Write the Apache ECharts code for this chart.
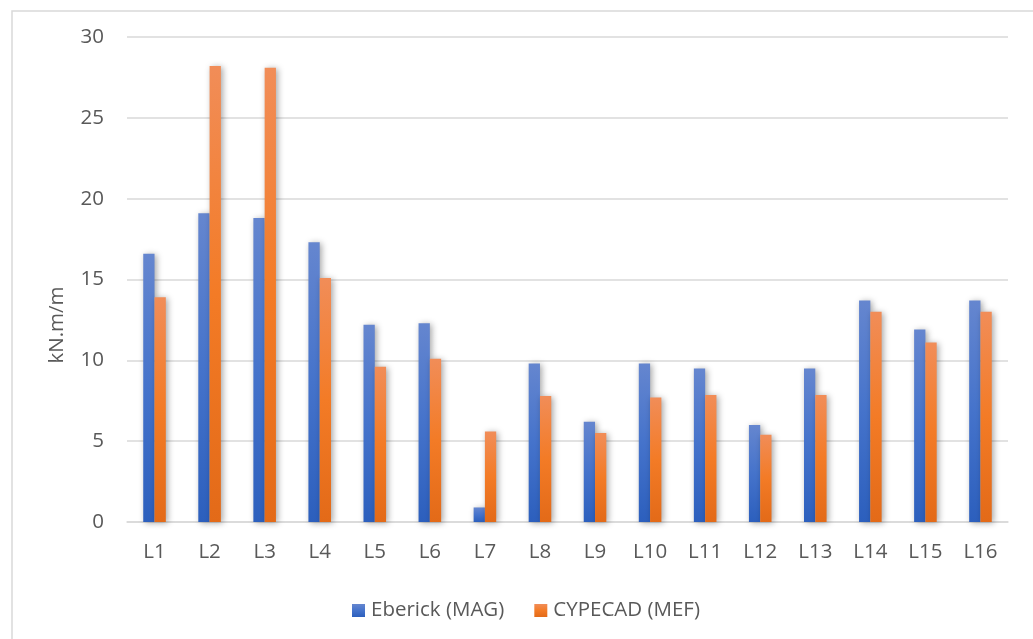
<!DOCTYPE html>
<html>
<head>
<meta charset="utf-8">
<style>
  html, body { margin: 0; padding: 0; background: #ffffff; }
  #chart { width: 1033px; height: 639px; }
</style>
<script src="https://cdn.jsdelivr.net/npm/echarts@6/dist/echarts.min.js"></script>
</head>
<body>
<div id="chart"></div>
<script>
// Bending moments per slab, two analysis methods
const categories = ['L1', 'L2', 'L3', 'L4', 'L5', 'L6', 'L7', 'L8', 'L9', 'L10', 'L11', 'L12', 'L13', 'L14', 'L15', 'L16'];
const eberick = [16.6, 19.1, 18.8, 17.3, 12.2, 12.3, 0.9, 9.8, 6.2, 9.8, 9.5, 6.0, 9.5, 13.7, 11.9, 13.7];
const cypecad = [13.9, 28.2, 28.1, 15.1, 9.6, 10.1, 5.6, 7.8, 5.5, 7.7, 7.85, 5.4, 7.85, 13.0, 11.1, 13.0];
const seriesNames = ['Eberick (MAG)', 'CYPECAD (MEF)'];
const yTicks = { min: 0, max: 30, interval: 5 };
const unitLabel = 'kN.m/m';

const FONT = '"Open Sans", Lato, sans-serif';
const FS = 20.5;
const TEXT = '#595959';

function vgrad(top, mid, bottom) {
  return new echarts.graphic.LinearGradient(0, 0, 0, 1, [
    { offset: 0, color: top },
    { offset: 0.5, color: mid },
    { offset: 1, color: bottom }
  ]);
}
const blueFill = vgrad('#6586cf', '#4573cb', '#2c5fbd');
const orangeFill = vgrad('#f18d58', '#f37b26', '#e36a18');

const barStyle = (fill) => ({
  color: fill,
  shadowColor: 'rgba(0,0,0,0.35)',
  shadowBlur: 6,
  shadowOffsetX: 2,
  shadowOffsetY: 1
});

const chart = echarts.init(document.getElementById('chart'), null, { renderer: 'canvas' });
chart.setOption({
  backgroundColor: '#ffffff',
  animation: false,
  textStyle: { fontFamily: FONT },
  grid: { left: 127, right: 25, top: 37, bottom: 117, containLabel: false },
  legend: {
    data: [
      { name: seriesNames[0], itemStyle: { color: blueFill } },
      { name: seriesNames[1], itemStyle: { color: orangeFill } }
    ],
    left: 347,
    top: 595,
    itemWidth: 13,
    itemHeight: 13,
    itemGap: 30,
    icon: 'rect',
    textStyle: { color: TEXT, fontSize: FS, fontFamily: FONT, padding: [0, 0, 0, 1] }
  },
  xAxis: {
    type: 'category',
    data: categories,
    axisTick: { show: false },
    axisLine: { show: true, lineStyle: { color: '#d9d9d9', width: 1.5 } },
    axisLabel: { color: TEXT, fontSize: FS, margin: 20, fontFamily: FONT }
  },
  yAxis: {
    type: 'value',
    min: yTicks.min,
    max: yTicks.max,
    interval: yTicks.interval,
    axisLine: { show: false },
    axisTick: { show: false },
    axisLabel: { color: TEXT, fontSize: FS, margin: 23, fontFamily: FONT },
    splitLine: { lineStyle: { color: '#d9d9d9', width: 1.5 } }
  },
  series: [
    {
      name: seriesNames[0],
      type: 'bar',
      data: eberick,
      barWidth: '20.5%',
      barGap: '0%',
      itemStyle: barStyle(blueFill)
    },
    {
      name: seriesNames[1],
      type: 'bar',
      data: cypecad,
      barWidth: '20.5%',
      barGap: '0%',
      itemStyle: barStyle(orangeFill)
    }
  ],
  graphic: [
    {
      type: 'rect',
      left: 9.5,
      top: 8.5,
      shape: { width: 1040, height: 650 },
      style: { fill: 'none', stroke: '#d9d9d9', lineWidth: 1.5 },
      silent: true,
      z: -1
    },
    {
      type: 'text',
      x: 57,
      y: 325,
      rotation: Math.PI / 2,
      style: {
        text: unitLabel,
        fill: TEXT,
        font: FS + 'px ' + FONT,
        textAlign: 'center',
        textVerticalAlign: 'middle'
      },
      silent: true
    }
  ]
});
</script>
</body>
</html>
